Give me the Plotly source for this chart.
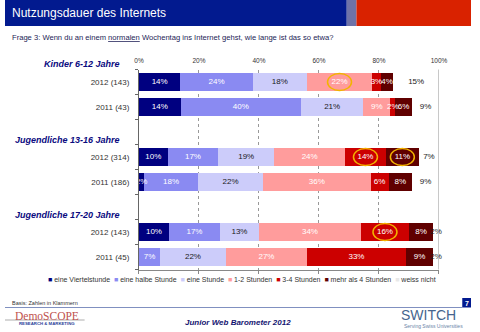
import plotly.graph_objects as go

W, H = 480, 332
FONT = "Liberation Sans"

# ---------------- data ----------------
groups = ["Kinder 6-12 Jahre", "Jugendliche 13-16 Jahre", "Jugendliche 17-20 Jahre"]
rows = ["2012 (143)", "2011 (43)", "2012 (314)", "2011 (186)", "2012 (143)", "2011 (45)"]
series_names = ["eine Viertelstunde", "eine halbe Stunde", "eine Stunde", "1-2 Stunden",
                "3-4 Stunden", "mehr als 4 Stunden", "weiss nicht"]
viertelstunde = [13.8, 13.9, 9.6, 1.7, 10.0, 0.0]
halbe_stunde = [24.1, 40.1, 16.8, 18.0, 17.0, 7.0]
eine_stunde = [18.1, 20.8, 18.7, 21.7, 13.0, 22.0]
std_1_2 = [21.7, 9.0, 23.6, 35.8, 34.0, 27.0]
std_3_4 = [2.9, 1.6, 13.6, 6.0, 16.0, 33.0]
mehr_4 = [4.2, 5.6, 11.0, 7.8, 8.0, 9.0]
weiss_nicht = [15.2, 9.0, 6.7, 9.0, 2.0, 2.0]
series_values = [viertelstunde, halbe_stunde, eine_stunde, std_1_2, std_3_4, mehr_4, weiss_nicht]
x_ticks = [0, 20, 40, 60, 80, 100]
# highlighted segments (row index, series index)
highlights = [(0, 3), (2, 4), (2, 5), (4, 4)]

# ---------------- styles ----------------
colors = ["#000080", "#8a8af2", "#ccccfa", "#ff9c9c", "#cc0000", "#600000", "#ffffff"]
text_colors = ["white", "white", "#1a1a1a", "white", "white", "white", "#1a1a1a"]
legend_sq = ["#000080", "#8a8af2", "#ccccfa", "#ff9c9c", "#cc0000", "#600000", "#e8e8e8"]

# slot positions: each group = header slot + 2 rows
row_slots = []
header_slots = []
for g in range(len(groups)):
    header_slots.append(3 * g - 1)
    row_slots += [3 * g, 3 * g + 1]

plot_top, plot_bot = 69.5, 269.5
slot_px = (plot_bot - plot_top) / 8

def px(x):
    return x / W

def py(y):
    return 1 - y / H

fig = go.Figure()

# bars
starts = [0.0] * len(rows)
seg_start = []
for si, (name, vals) in enumerate(zip(series_names, series_values)):
    fig.add_trace(go.Bar(
        x=vals, y=row_slots, orientation="h", name=name,
        marker=dict(color=colors[si], line=dict(width=0)),
        showlegend=False, hoverinfo="skip",
    ))
    seg_start.append(list(starts))
    starts = [s + v for s, v in zip(starts, vals)]

# bar labels
for si, vals in enumerate(series_values):
    xs, ys, ts = [], [], []
    for ri, v in enumerate(vals):
        if v <= 0:
            continue
        xs.append(seg_start[si][ri] + v / 2)
        ys.append(row_slots[ri])
        ts.append(f"{round(v)}%")
    fig.add_trace(go.Scatter(
        x=xs, y=ys, text=ts, mode="text", cliponaxis=False,
        textfont=dict(family=FONT, size=8, color=text_colors[si]),
        showlegend=False, hoverinfo="skip",
    ))

# dummy trace for top axis
fig.add_trace(go.Scatter(x=[0, 100], y=[0, 0], xaxis="x2", mode="markers",
                         marker=dict(opacity=0), showlegend=False, hoverinfo="skip"))

# highlight ellipses
for ri, si in highlights:
    cx = seg_start[si][ri] + series_values[si][ri] / 2
    cy = row_slots[ri]
    fig.add_shape(type="circle", xref="x", yref="y",
                  x0=cx - 4.0, x1=cx + 4.0, y0=cy - 0.34, y1=cy + 0.34,
                  line=dict(color="#f2b400", width=1.5))

# right 100% line
fig.add_shape(type="line", xref="x", yref="paper", x0=100, x1=100,
              y0=py(plot_bot), y1=py(plot_top), line=dict(color="#9a9a9a", width=1))

fig.update_layout(
    width=W, height=H, autosize=False,
    margin=dict(l=0, r=0, t=0, b=0),
    paper_bgcolor="white", plot_bgcolor="white",
    barmode="stack", bargap=0.28,
    font=dict(family=FONT, color="#333333"),
    xaxis=dict(domain=[px(138), px(447)], range=[0, 100], tickvals=x_ticks,
               showticklabels=False, showgrid=True, gridcolor="#999999", griddash="dot",
               gridwidth=1, zeroline=False, showline=True, linecolor="#888888",
               ticks="outside", ticklen=3, tickcolor="#888888", fixedrange=True),
    xaxis2=dict(overlaying="x", matches="x", side="top", range=[0, 100], tickvals=x_ticks,
                ticktext=[f"{t}%" for t in x_ticks], showgrid=False, zeroline=False,
                showline=False, ticks="", tickfont=dict(size=6.5, color="#333333"),
                anchor="y", ticklabelstandoff=4),
    yaxis=dict(domain=[py(plot_bot), py(plot_top)], range=[7.5, -0.5],
               tickvals=row_slots, ticktext=rows, ticks="", ticklabelstandoff=7,
               tickfont=dict(size=8, color="#333333"),
               showgrid=False, zeroline=False, showline=True, linecolor="#666666",
               linewidth=1,
               minor=dict(tickvals=[s - 0.5 for s in range(0, 9)], ticks="outside",
                          ticklen=3, tickcolor="#666666", showgrid=False)),
)

# header band
fig.add_shape(type="rect", xref="paper", yref="paper", x0=0, x1=px(352), y0=py(26), y1=1,
              fillcolor="#021a8f", line=dict(width=0), layer="below")
fig.add_shape(type="rect", xref="paper", yref="paper", x0=px(352), x1=px(362), y0=py(26), y1=1,
              fillcolor="#6f73a8", line=dict(width=0), layer="below")
fig.add_shape(type="rect", xref="paper", yref="paper", x0=px(362), x1=1, y0=py(26), y1=1,
              fillcolor="#d92200", line=dict(width=0), layer="below")

ann = []
def text(x, y, s, size, color, xanchor="left", family=FONT, **kw):
    ann.append(dict(x=px(x), y=py(y), xref="paper", yref="paper", text=s, showarrow=False,
                    xanchor=xanchor, yanchor="middle",
                    font=dict(family=family, size=size, color=color), **kw))

text(5, 13.5, "Nutzungsdauer des Internets", 12, "white")
text(5, 37, "Frage 3: Wenn du an einem <u>normalen</u> Wochentag ins Internet gehst, wie lange ist das so etwa?",
     7.6, "#1c1c55")

# group headers (placed just below the empty header slot of each group)
for g, name in enumerate(groups):
    ypix = plot_top + (header_slots[g] + 0.5) * slot_px + 7.5
    text(121, ypix, f"<b><i>{name}</i></b>", 9, "#0a0a80", xanchor="right")

# legend
leg = "  ".join(f"<span style='color:{c}'>■</span> {n}" for c, n in zip(legend_sq, series_names))
text(244, 279, leg, 7, "#333333", xanchor="center")

text(5, 302.5, "Basis: Zahlen in Klammern", 5.5, "#333333")

# footer line and page number
fig.add_shape(type="line", xref="paper", yref="paper", x0=0, x1=px(471), y0=py(307.5), y1=py(307.5),
              line=dict(color="#8090c0", width=1))
fig.add_shape(type="rect", xref="paper", yref="paper", x0=px(471), x1=1, y0=py(307.5), y1=py(298),
              fillcolor="#021a8f", line=dict(width=0))
text(475.5, 303, "<b>7</b>", 7, "white", xanchor="center")

# logos
fig.add_shape(type="line", xref="paper", yref="paper", x0=0, x1=px(82), y0=py(320), y1=py(320),
              line=dict(color="#c8c8c8", width=1.5))
text(43, 315.5, "DemoSCOPE", 11.5, "#c0504d", xanchor="center", family="Liberation Serif")
text(43, 323.5, "<b>RESEARCH &amp; MARKETING</b>", 4.3, "#2a3f9a", xanchor="center")
text(240, 322, "<b><i>Junior Web Barometer 2012</i></b>", 8, "#141470", xanchor="center")
text(436, 314.5, "SWITCH", 14, "#46658e", xanchor="center")
text(441, 325.5, "Serving Swiss Universities", 5, "#6a84a8", xanchor="center")

fig.update_layout(annotations=ann)
fig.write_html("out.html")
